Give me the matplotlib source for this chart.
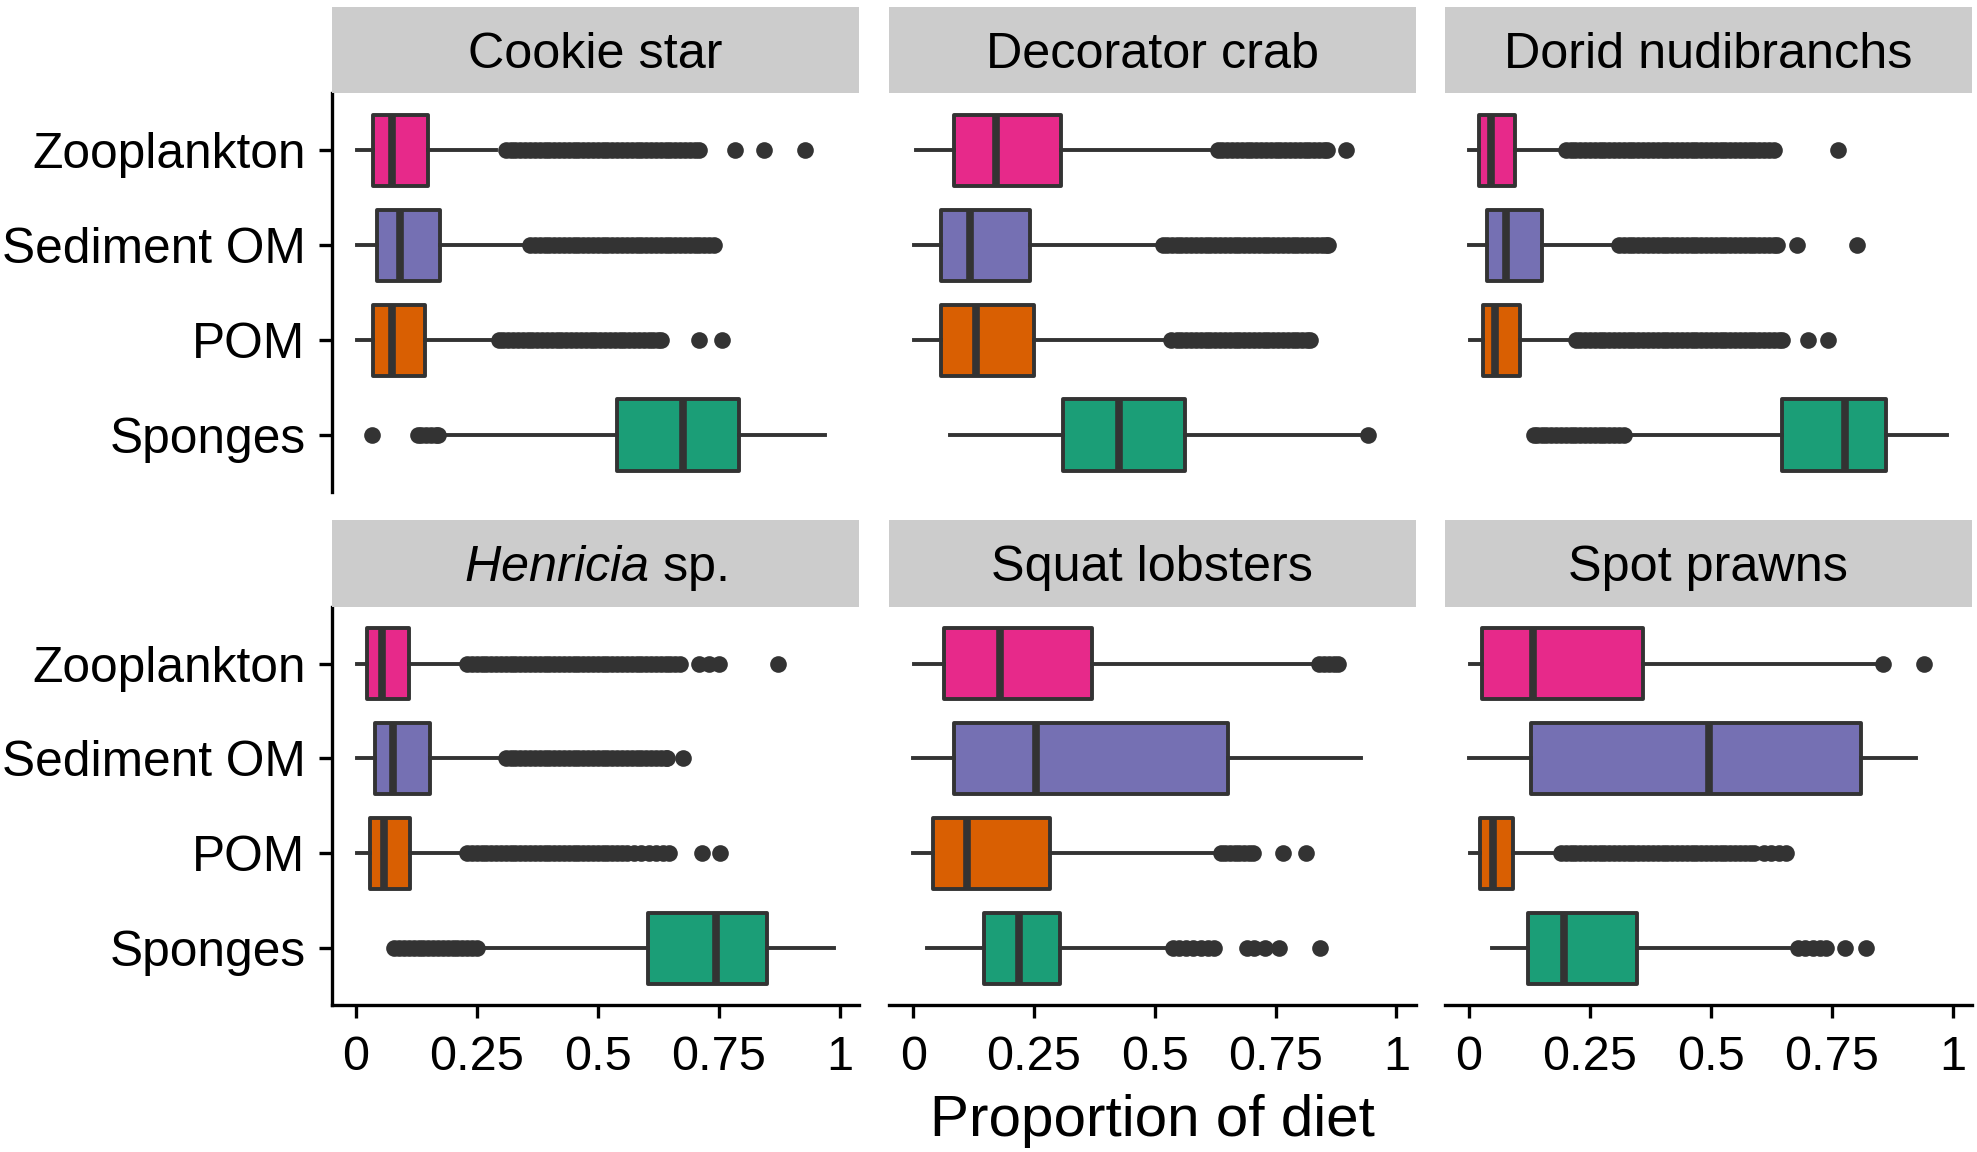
import numpy as np
import matplotlib
matplotlib.use("Agg")
import matplotlib.pyplot as plt
from matplotlib.patches import Rectangle

plt.rcParams['font.family'] = ['Liberation Sans', 'DejaVu Sans']
plt.rcParams['mathtext.fontset'] = 'custom'
plt.rcParams['mathtext.rm'] = 'Liberation Sans'
plt.rcParams['mathtext.it'] = 'Liberation Sans:italic'

# ---------------- data ----------------
species = ["Cookie star", "Decorator crab", "Dorid nudibranchs",
           r"$\it{Henricia}$ sp.", "Squat lobsters", "Spot prawns"]
sources = ["Zooplankton", "Sediment OM", "POM", "Sponges"]
source_colors = ["#E7298A", "#7570B3", "#D95F02", "#1B9E77"]

# per species: [Zooplankton, Sediment OM, POM, Sponges]
whislo = [[0.002, 0.002, 0.002, 0.188],
          [0.005, 0.002, 0.002, 0.076],
          [0.001, 0.001, 0.002, 0.330],
          [0.002, 0.003, 0.002, 0.255],
          [0.002, 0.000, 0.000, 0.028],
          [0.003, 0.000, 0.003, 0.048]]
q1 = [[0.036, 0.044, 0.036, 0.540],
      [0.085, 0.057, 0.058, 0.310],
      [0.021, 0.038, 0.028, 0.647],
      [0.023, 0.040, 0.030, 0.604],
      [0.064, 0.085, 0.040, 0.147],
      [0.027, 0.128, 0.022, 0.123]]
med = [[0.076, 0.091, 0.076, 0.675],
       [0.172, 0.117, 0.129, 0.426],
       [0.045, 0.077, 0.054, 0.777],
       [0.054, 0.078, 0.058, 0.745],
       [0.179, 0.254, 0.111, 0.218],
       [0.133, 0.497, 0.050, 0.196]]
q3 = [[0.149, 0.174, 0.143, 0.792],
      [0.305, 0.241, 0.250, 0.562],
      [0.096, 0.150, 0.106, 0.862],
      [0.110, 0.153, 0.113, 0.849],
      [0.371, 0.652, 0.283, 0.303],
      [0.360, 0.810, 0.092, 0.347]]
whishi = [[0.290, 0.350, 0.285, 0.969],
          [0.620, 0.510, 0.525, 0.928],
          [0.190, 0.300, 0.210, 0.988],
          [0.215, 0.300, 0.215, 0.987],
          [0.830, 0.927, 0.620, 0.530],
          [0.846, 0.924, 0.178, 0.664]]

fliers = [
    # Cookie star
    [[0.31, 0.32, 0.33, 0.34, 0.35, 0.36, 0.37, 0.38, 0.39, 0.40, 0.41, 0.42, 0.43,
      0.44, 0.45, 0.46, 0.47, 0.48, 0.49, 0.50, 0.51, 0.52, 0.53, 0.54, 0.55, 0.56,
      0.57, 0.58, 0.59, 0.60, 0.61, 0.62, 0.63, 0.64, 0.65, 0.66, 0.67, 0.68, 0.69,
      0.70, 0.71, 0.783, 0.843, 0.928],
     [0.36, 0.37, 0.38, 0.39, 0.40, 0.41, 0.42, 0.43, 0.44, 0.45, 0.46, 0.47, 0.48,
      0.49, 0.50, 0.51, 0.52, 0.53, 0.54, 0.55, 0.56, 0.57, 0.58, 0.59, 0.60, 0.61,
      0.62, 0.63, 0.64, 0.65, 0.66, 0.67, 0.68, 0.69, 0.70, 0.71, 0.72, 0.73, 0.74],
     [0.295, 0.305, 0.315, 0.325, 0.335, 0.345, 0.355, 0.365, 0.375, 0.385, 0.395,
      0.405, 0.415, 0.425, 0.435, 0.445, 0.455, 0.465, 0.475, 0.485, 0.495, 0.505,
      0.515, 0.525, 0.535, 0.545, 0.555, 0.565, 0.575, 0.585, 0.595, 0.605, 0.615,
      0.625, 0.63, 0.71, 0.757],
     [0.034, 0.128, 0.135, 0.145, 0.155, 0.165, 0.171]],
    # Decorator crab
    [[0.631, 0.64, 0.65, 0.66, 0.67, 0.68, 0.69, 0.70, 0.71, 0.72, 0.73, 0.74, 0.75,
      0.76, 0.77, 0.78, 0.79, 0.80, 0.81, 0.82, 0.83, 0.84, 0.85, 0.857, 0.896],
     [0.516, 0.525, 0.535, 0.545, 0.555, 0.565, 0.575, 0.585, 0.595, 0.605, 0.615,
      0.625, 0.635, 0.645, 0.655, 0.665, 0.675, 0.685, 0.695, 0.705, 0.715, 0.725,
      0.735, 0.745, 0.755, 0.765, 0.775, 0.785, 0.795, 0.805, 0.815, 0.825, 0.835,
      0.845, 0.855, 0.858],
     [0.534, 0.545, 0.555, 0.565, 0.575, 0.585, 0.595, 0.605, 0.615, 0.625, 0.635,
      0.645, 0.655, 0.665, 0.675, 0.685, 0.695, 0.705, 0.715, 0.725, 0.735, 0.745,
      0.755, 0.765, 0.775, 0.785, 0.795, 0.805, 0.815, 0.821],
     [0.942]],
    # Dorid nudibranchs
    [[0.20, 0.21, 0.22, 0.23, 0.24, 0.25, 0.26, 0.27, 0.28, 0.29, 0.30, 0.31, 0.32,
      0.33, 0.34, 0.35, 0.36, 0.37, 0.38, 0.39, 0.40, 0.41, 0.42, 0.43, 0.44, 0.45,
      0.46, 0.47, 0.48, 0.49, 0.50, 0.51, 0.52, 0.53, 0.54, 0.55, 0.56, 0.57, 0.58,
      0.59, 0.60, 0.61, 0.62, 0.63, 0.762],
     [0.31, 0.32, 0.33, 0.34, 0.35, 0.36, 0.37, 0.38, 0.39, 0.40, 0.41, 0.42, 0.43,
      0.44, 0.45, 0.46, 0.47, 0.48, 0.49, 0.50, 0.51, 0.52, 0.53, 0.54, 0.55, 0.56,
      0.57, 0.58, 0.59, 0.60, 0.61, 0.62, 0.63, 0.637, 0.677, 0.801],
     [0.221, 0.23, 0.24, 0.25, 0.26, 0.27, 0.28, 0.29, 0.30, 0.31, 0.32, 0.33, 0.34,
      0.35, 0.36, 0.37, 0.38, 0.39, 0.40, 0.41, 0.42, 0.43, 0.44, 0.45, 0.46, 0.47,
      0.48, 0.49, 0.50, 0.51, 0.52, 0.53, 0.54, 0.55, 0.56, 0.57, 0.58, 0.59, 0.60,
      0.61, 0.62, 0.63, 0.64, 0.647, 0.70, 0.741],
     [0.134, 0.14, 0.15, 0.16, 0.17, 0.18, 0.19, 0.20, 0.21, 0.22, 0.23, 0.24, 0.25,
      0.26, 0.27, 0.28, 0.29, 0.30, 0.31, 0.32]],
    # Henricia sp.
    [[0.23, 0.24, 0.25, 0.26, 0.27, 0.28, 0.29, 0.30, 0.31, 0.32, 0.33, 0.34, 0.35,
      0.36, 0.37, 0.38, 0.39, 0.40, 0.41, 0.42, 0.43, 0.44, 0.45, 0.46, 0.47, 0.48,
      0.49, 0.50, 0.51, 0.52, 0.53, 0.54, 0.55, 0.56, 0.57, 0.58, 0.59, 0.60, 0.61,
      0.62, 0.63, 0.64, 0.65, 0.66, 0.67, 0.71, 0.73, 0.75, 0.872],
     [0.31, 0.32, 0.33, 0.34, 0.35, 0.36, 0.37, 0.38, 0.39, 0.40, 0.41, 0.42, 0.43,
      0.44, 0.45, 0.46, 0.47, 0.48, 0.49, 0.50, 0.51, 0.52, 0.53, 0.54, 0.55, 0.56,
      0.57, 0.58, 0.59, 0.60, 0.61, 0.62, 0.63, 0.64, 0.643, 0.675],
     [0.23, 0.24, 0.25, 0.26, 0.27, 0.28, 0.29, 0.30, 0.31, 0.32, 0.33, 0.34, 0.35,
      0.36, 0.37, 0.38, 0.39, 0.40, 0.41, 0.42, 0.43, 0.44, 0.45, 0.46, 0.47, 0.48,
      0.49, 0.50, 0.51, 0.52, 0.53, 0.54, 0.55, 0.56, 0.575, 0.59, 0.605, 0.62,
      0.635, 0.648, 0.716, 0.753],
     [0.08, 0.09, 0.10, 0.11, 0.12, 0.13, 0.14, 0.15, 0.16, 0.17, 0.18, 0.19, 0.20,
      0.21, 0.22, 0.23, 0.24, 0.25]],
    # Squat lobsters
    [[0.84, 0.85, 0.86, 0.87, 0.88],
     [],
     [0.636, 0.645, 0.655, 0.665, 0.675, 0.685, 0.695, 0.704, 0.766, 0.813],
     [0.537, 0.55, 0.565, 0.58, 0.595, 0.61, 0.623, 0.69, 0.705, 0.727, 0.756, 0.842]],
    # Spot prawns
    [[0.856, 0.94],
     [],
     [0.19, 0.20, 0.21, 0.22, 0.23, 0.24, 0.25, 0.26, 0.27, 0.28, 0.29, 0.30, 0.31,
      0.32, 0.33, 0.34, 0.35, 0.36, 0.37, 0.38, 0.39, 0.40, 0.41, 0.42, 0.43, 0.44,
      0.45, 0.46, 0.47, 0.48, 0.49, 0.50, 0.51, 0.52, 0.53, 0.54, 0.55, 0.56, 0.57,
      0.58, 0.59, 0.61, 0.625, 0.64, 0.655],
     [0.68, 0.695, 0.71, 0.725, 0.737, 0.777, 0.821]],
]

x_ticks = [0, 0.25, 0.5, 0.75, 1]
x_ticklabels = ["0", "0.25", "0.5", "0.75", "1"]
x_label = "Proportion of diet"

# ---------------- layout ----------------
W, H = 1977, 1152
fig = plt.figure(figsize=(W / 100, H / 100), dpi=100)
fig.patch.set_facecolor("white")


def rect(l, t, r, b):
    return [l / W, 1 - b / H, (r - l) / W, (b - t) / H]


cols = [(331.7, 859.0), (889.3, 1415.5), (1445.0, 1972.0)]
rows = [(93.3, 492.0), (606.7, 1005.0)]
strips = [(7.0, 93.3), (520.0, 606.7)]
dark = "#333333"
positions = [4, 3, 2, 1]

for i, sp in enumerate(species):
    r, c = divmod(i, 3)
    l, rr = cols[c]
    t, b = rows[r]
    ax = fig.add_axes(rect(l, t, rr, b))
    stats = []
    for j, src in enumerate(sources):
        stats.append(dict(whislo=whislo[i][j], q1=q1[i][j], med=med[i][j],
                          q3=q3[i][j], whishi=whishi[i][j],
                          fliers=np.array(fliers[i][j], dtype=float), label=src))
    bp = ax.bxp(stats, positions=positions, widths=0.75, orientation='horizontal',
                patch_artist=True, showcaps=False,
                boxprops=dict(edgecolor=dark, linewidth=2.8),
                medianprops=dict(color=dark, linewidth=5.5, solid_capstyle='butt'),
                whiskerprops=dict(color=dark, linewidth=2.8),
                flierprops=dict(marker='o', markerfacecolor=dark, markeredgecolor=dark,
                                markeredgewidth=0, markersize=12))
    for patch, col in zip(bp['boxes'], source_colors):
        patch.set_facecolor(col)
        patch.set_joinstyle('round')
    ax.set_xlim(-0.0495, 1.0395)
    ax.set_ylim(0.4, 4.6)
    ax.spines['top'].set_visible(False)
    ax.spines['right'].set_visible(False)
    for s in ('left', 'bottom'):
        ax.spines[s].set_linewidth(2.4)
        ax.spines[s].set_color('black')
    if c == 0:
        ax.set_yticks(positions, labels=sources)
        ax.tick_params(axis='y', length=9.4, width=2.4, labelsize=35.7, pad=9.5,
                       colors='black')
    else:
        ax.spines['left'].set_visible(False)
        ax.set_yticks([])
    if r == 1:
        ax.set_xticks(x_ticks, labels=x_ticklabels)
        ax.tick_params(axis='x', length=9.4, width=2.4, labelsize=35, pad=12,
                       colors='black')
    else:
        ax.spines['bottom'].set_visible(False)
        ax.set_xticks([])

    st, sb = strips[r]
    fig.add_artist(Rectangle((l / W, 1 - sb / H), (rr - l) / W, (sb - st) / H,
                             transform=fig.transFigure, facecolor="#cccccc",
                             edgecolor='none'))
    fig.text((l + rr) / 2 / W, 1 - (sb - 25.5) / H, sp, ha='center', va='baseline',
             fontsize=36.3, color='black')

fig.text(1152 / W, 1 - 1136 / H, x_label, ha='center', va='baseline', fontsize=42,
         color='black')

fig.savefig("out.png", dpi=100, facecolor="white")
